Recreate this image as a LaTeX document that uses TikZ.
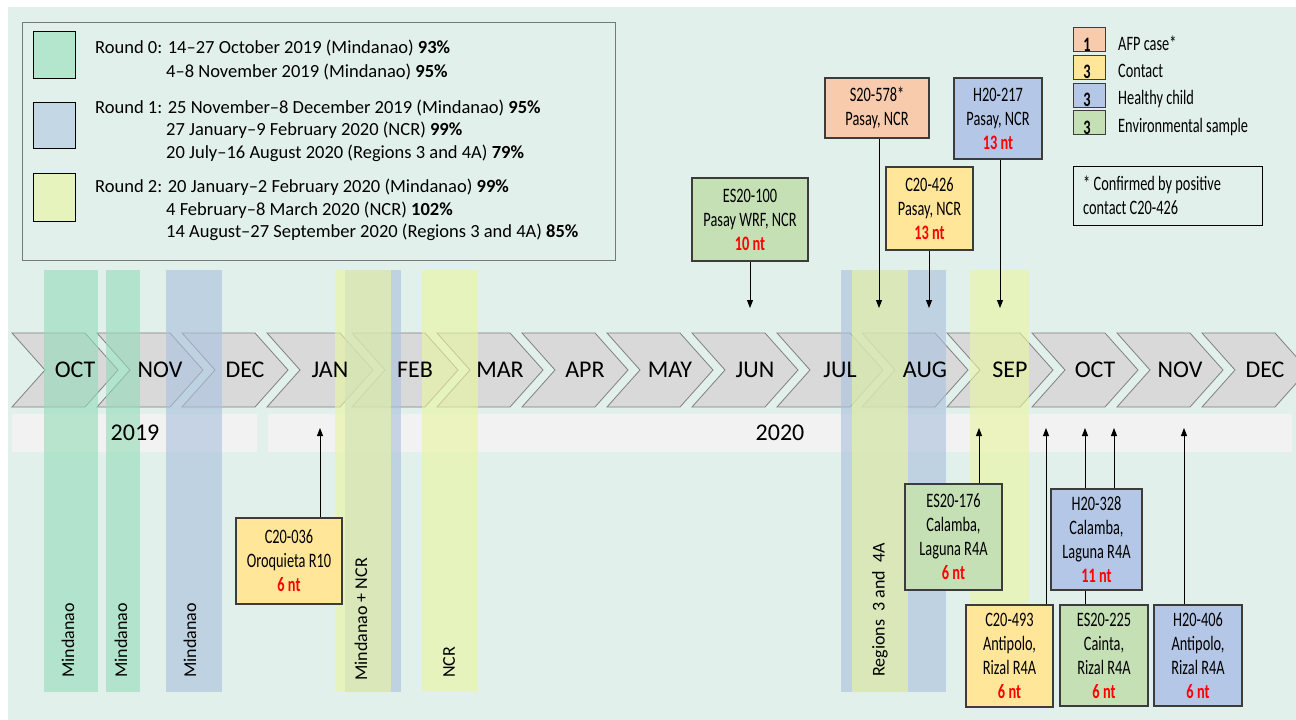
\documentclass[tikz,border=0pt]{standalone}
\usepackage{fontspec}
\setmainfont{Carlito}
\newfontfamily\cond[FakeStretch=0.70]{Carlito}
\usetikzlibrary{arrows.meta}
\definecolor{bg}{RGB}{226,240,235}
\definecolor{chevfill}{RGB}{217,217,217}
\definecolor{chevline}{RGB}{128,128,128}
\definecolor{yearfill}{RGB}{242,242,242}
\definecolor{legline}{RGB}{120,120,120}
\definecolor{boxline}{RGB}{60,60,60}
\definecolor{bandG}{RGB}{149,220,185}
\definecolor{bandB}{RGB}{170,193,222}
\definecolor{bandY}{RGB}{233,245,160}
\definecolor{swG}{RGB}{180,229,205}
\definecolor{swB}{RGB}{196,215,229}
\definecolor{swY}{RGB}{230,243,188}
\definecolor{cSalmon}{RGB}{248,203,173}
\definecolor{cYellow}{RGB}{255,230,153}
\definecolor{cBlue}{RGB}{180,199,231}
\definecolor{cGreen}{RGB}{197,224,180}
\definecolor{ntred}{RGB}{255,0,0}
\newcommand{\nt}[1]{\textcolor{ntred}{\bfseries #1 nt}}
\tikzset{
  chev/.style={fill=chevfill, draw=chevline, line width=0.8pt, line join=miter},
  month/.style={font=\fontsize{24}{28}\selectfont, inner sep=0},
  yearlab/.style={font=\fontsize{24}{28}\selectfont, inner sep=0},
  band/.style={opacity=0.62},
  bandlab/.style={rotate=90, anchor=west, inner sep=0, font=\fontsize{18}{20}\selectfont},
  legtxt/.style={anchor=west, inner sep=0, font=\fontsize{18.5}{20}\selectfont},
  sbox/.style={draw=boxline, line width=1.1pt, inner sep=0, align=center, font=\cond\fontsize{20.5}{24}\selectfont},
  swatch/.style={draw=black, line width=0.9pt, minimum width=42pt, inner sep=0},
  keybox/.style={draw=boxline, line width=1pt, minimum width=32pt, minimum height=24pt, inner sep=0},
  keytxt/.style={anchor=west, inner sep=0, font=\cond\fontsize{20.5}{24}\selectfont},
  keynum/.style={inner sep=0, font=\cond\fontsize{20.5}{24}\selectfont\bfseries},
  arr/.style={-{Triangle[length=8pt,width=6pt]}, line width=0.9pt, draw=black},
}
\begin{document}
\begin{tikzpicture}[x=1pt,y=-1pt]
\useasboundingbox (0,0) rectangle (1296,720);
\fill[white] (0,0) rectangle (1296,720);
\fill[bg] (8,7) rectangle (1296,720);

% legend box
\node[draw=legline, line width=1pt, minimum width=593pt, minimum height=238pt, inner sep=0] (legend) at (318.5,141) {};
\node[swatch, fill=swG, minimum height=47pt] (sw0) at (54,54.5) {};
\node[swatch, fill=swB, minimum height=46pt] (sw1) at (54,125) {};
\node[swatch, fill=swY, minimum height=48pt] (sw2) at (54,197) {};
\node[legtxt] (r0a) at (95,48) {Round 0: 14–27 October 2019 (Mindanao) \textbf{93\%}};
\node[legtxt] (r0b) at (166,72) {4–8 November 2019 (Mindanao) \textbf{95\%}};
\node[legtxt] (r1a) at (95,108) {Round 1: 25 November–8 December 2019 (Mindanao) \textbf{95\%}};
\node[legtxt] (r1b) at (166,130) {27 January–9 February 2020 (NCR) \textbf{99\%}};
\node[legtxt] (r1c) at (166,153) {20 July–16 August 2020 (Regions 3 and 4A) \textbf{79\%}};
\node[legtxt] (r2a) at (95,187) {Round 2: 20 January–2 February 2020 (Mindanao) \textbf{99\%}};
\node[legtxt] (r2b) at (166,210) {4 February–8 March 2020 (NCR) \textbf{102\%}};
\node[legtxt] (r2c) at (166,232) {14 August–27 September 2020 (Regions 3 and 4A) \textbf{85\%}};

% chevrons
\foreach \i in {0,...,14} {
  \pgfmathsetmacro\xo{12+85*\i}
  \draw[chev] (\xo,333) -- ++(73,0) -- ++(33,37) -- ++(-33,37) -- ++(-73,0) -- ++(33,-37) -- cycle;
}
% year bands
\fill[yearfill] (12,414) rectangle (257,452);
\fill[yearfill] (268,414) rectangle (1292,452);

% vaccination bands
\fill[band, bandG] (44,270) rectangle (98,692);
\fill[band, bandG] (106,270) rectangle (140,692);
\fill[band, bandB] (166,270) rectangle (222,692);
\fill[band, bandB] (345,270) rectangle (401,692);
\fill[band, bandY] (335,270) rectangle (391,692);
\fill[band, bandY] (422,270) rectangle (478,692);
\fill[band, bandB] (841,270) rectangle (946,692);
\fill[band, bandY] (852,270) rectangle (908,692);
\fill[band, bandY] (970,270) rectangle (1029,692);

% month and year labels
\foreach \m [count=\i from 0] in {OCT,NOV,DEC,JAN,FEB,MAR,APR,MAY,JUN,JUL,AUG,SEP,OCT,NOV,DEC} {
  \pgfmathsetmacro\xo{12+85*\i}
  \node[month] (m\i) at (\xo+63,370) {\m};
}
\node[yearlab] (y2019) at (135,433) {2019};
\node[yearlab] (y2020) at (780,433) {2020};

\node[bandlab] (bl1) at (68,678) {Mindanao};
\node[bandlab] (bl2) at (121,678) {Mindanao};
\node[bandlab] (bl3) at (190,678) {Mindanao};
\node[bandlab] (bl4) at (361,681) {Mindanao + NCR};
\node[bandlab] (bl5) at (449,678) {NCR};
\node[bandlab] (bl6) at (880,677) {Regions\ \ 3 and\ \ 4A};

% arrow end points
\coordinate (u036) at (320,428);
\coordinate (d100) at (750,308);
\coordinate (d578) at (879,308);
\coordinate (d426) at (929,308);
\coordinate (d217) at (1000,308);
\coordinate (u176) at (979,428);
\coordinate (u493) at (1046,428);
\coordinate (u225) at (1085,428);
\coordinate (u328) at (1114,428);
\coordinate (u406) at (1184,428);

% sample boxes
\node[sbox, fill=cYellow, minimum width=106pt, minimum height=86pt] (c036) at (289,561) {C20-036\\Oroquieta R10\\\nt{6}};
\node[sbox, fill=cGreen, minimum width=116pt, minimum height=83pt] (es100) at (750,219.5) {ES20-100\\Pasay WRF, NCR\\\nt{10}};
\node[sbox, fill=cSalmon, minimum width=104pt, minimum height=60pt] (s578) at (877,108) {S20-578*\\Pasay, NCR};
\node[sbox, fill=cBlue, minimum width=88pt, minimum height=81pt] (h217) at (998,118.5) {H20-217\\Pasay, NCR\\\nt{13}};
\node[sbox, fill=cYellow, minimum width=87pt, minimum height=83pt] (c426) at (929.5,208.5) {C20-426\\Pasay, NCR\\\nt{13}};
\node[sbox, fill=cGreen, minimum width=97pt, minimum height=106pt] (es176) at (953.5,537) {ES20-176\\Calamba,\\Laguna R4A\\\nt{6}};
\node[sbox, fill=cYellow, minimum width=87pt, minimum height=102pt] (c493) at (1009.5,656) {C20-493\\Antipolo,\\Rizal R4A\\\nt{6}};
\node[sbox, fill=cGreen, minimum width=88pt, minimum height=101pt] (es225) at (1104,655.5) {ES20-225\\Cainta,\\Rizal R4A\\\nt{6}};
\node[sbox, fill=cBlue, minimum width=88pt, minimum height=101pt] (h406) at (1198,655.5) {H20-406\\Antipolo,\\Rizal R4A\\\nt{6}};

% connectors
\draw[arr] (c036.north -| u036) -- (u036);
\draw[arr] (es100.south -| d100) -- (d100);
\draw[arr] (s578.south -| d578) -- (d578);
\draw[arr] (c426.south -| d426) -- (d426);
\draw[arr] (h217.south -| d217) -- (d217);
\draw[arr] (es176.north -| u176) -- (u176);
\draw[arr] (c493.north -| u493) -- (u493);
\draw[arr] (es225.north -| u225) -- (u225);
\node[sbox, fill=cBlue, minimum width=91pt, minimum height=101pt] (h328) at (1096.5,539.5) {H20-328\\Calamba,\\Laguna R4A\\\nt{11}};
\draw[arr] (h328.north -| u328) -- (u328);
\draw[arr] (h406.north -| u406) -- (u406);

% key
\node[keybox, fill=cSalmon] (k1) at (1089,39) {};
\node[keybox, fill=cYellow] (k2) at (1089,67) {};
\node[keybox, fill=cBlue] (k3) at (1089,95) {};
\node[keybox, fill=cGreen] (k4) at (1089,122.5) {};
\node[keynum] (k1n) at (1087,45) {1};
\node[keynum] (k2n) at (1087,72) {3};
\node[keynum] (k3n) at (1087,100) {3};
\node[keynum] (k4n) at (1087,128) {3};
\node[keytxt] (k1t) at (1118,43) {AFP case*};
\node[keytxt] (k2t) at (1118,71) {Contact};
\node[keytxt] (k3t) at (1118,99) {Healthy child};
\node[keytxt] (k4t) at (1118,127) {Environmental sample};
\node[draw=black, line width=1pt, minimum width=189pt, minimum height=59pt, inner sep=0] (fn) at (1167.5,195.5) {};
\node[anchor=west, inner sep=0, align=left, font=\cond\fontsize{20.5}{24}\selectfont] (fnt) at (1083,195.5) {* Confirmed by positive\\contact C20-426};
\end{tikzpicture}
\end{document}
